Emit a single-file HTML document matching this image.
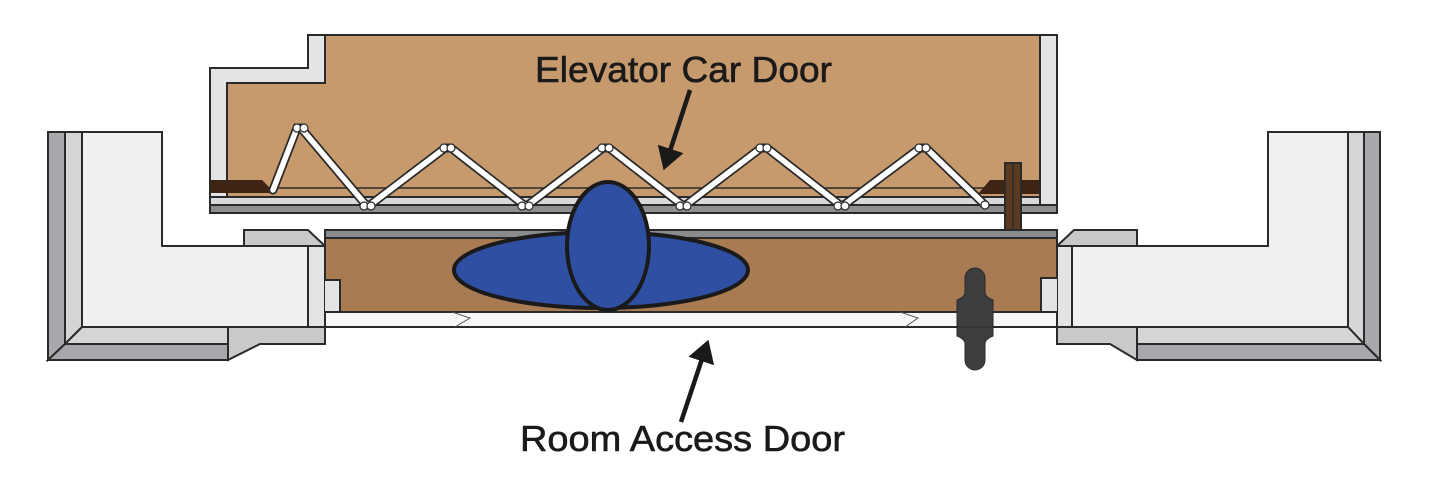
<!DOCTYPE html>
<html><head><style>html,body{margin:0;padding:0;background:#fff}svg{display:block}</style></head><body>
<svg width="1429" height="482" viewBox="0 0 1429 482" xmlns="http://www.w3.org/2000/svg">
<defs>
<marker id="ah" markerWidth="6" markerHeight="6" refX="4" refY="3" orient="auto" markerUnits="strokeWidth"><path d="M0,0 L5,3 L0,6 Z" fill="#1a1a1a"/></marker>
</defs>
<g stroke="#2a2a2a" stroke-width="2" stroke-linejoin="miter">
<!-- Left frame -->
<path d="M48,132 H162 V246 H308 V327 H228 V360 H48 Z" fill="#f0f0f1"/>
<path d="M48,132 H65 V344 L48,360 Z" fill="#a7a8ab"/>
<path d="M65,132 H82 V327 L65,344 Z" fill="#d4d5d7"/>
<path d="M82,327 H228 V344 H65 Z" fill="#d4d5d7"/>
<path d="M65,344 H228 V360 H48 Z" fill="#a7a8ab"/>
<path d="M228,327 H325 V344 H260 L228,360 Z" fill="#c8c9cb"/>
<path d="M308,246 H325 V327 H308 Z" fill="#e3e4e5"/>
<path d="M244,230 H308 L325,246 H244 Z" fill="#c8c9cb"/>
<!-- Right frame -->
<path d="M1380,132 H1268 V246 H1072 V327 H1137 V360 H1380 Z" fill="#f0f0f1"/>
<path d="M1380,132 H1364 V344 L1380,360 Z" fill="#a7a8ab"/>
<path d="M1364,132 H1348 V327 L1364,344 Z" fill="#d4d5d7"/>
<path d="M1348,327 H1137 V344 H1364 Z" fill="#d4d5d7"/>
<path d="M1364,344 H1137 V360 H1380 Z" fill="#a7a8ab"/>
<path d="M1137,327 H1057 V344 H1110 L1137,360 Z" fill="#c8c9cb"/>
<path d="M1072,246 H1057 V327 H1072 Z" fill="#e3e4e5"/>
<path d="M1137,230 H1074 L1057,246 H1137 Z" fill="#c8c9cb"/>
<!-- Room door -->
<rect x="325" y="238" width="732" height="74" fill="#e3e4e5" stroke="none"/>
<path d="M325,238 H1057 V278 H1041 V312 H340 V280 H325 Z" fill="#a87b52"/>
<path d="M325,230 H1057 V238 H325 Z" fill="#8a8b8d"/>
<path d="M325,312 H1057 V327 H325 Z" fill="#f7f7f7"/>
<!-- Elevator car door -->
<path d="M210,68 H308 V35 H1057 V213 H210 Z" fill="#c69a6c"/>
<path d="M210,68 H308 V35 H325 V83 H227 V197 H210 Z" fill="#e3e4e5"/>
<path d="M1040,35 H1057 V213 H1040 Z" fill="#e3e4e5"/>
<path d="M210,197 H1040 V205 H210 Z" fill="#d8d9db"/>
<path d="M210,205 H1057 V213 H210 Z" fill="#8e8f91"/>
<line x1="270" y1="188" x2="1040" y2="188" stroke-width="1.5"/>
<path d="M211,180 H262 L275,193 H211 Z" fill="#3e2414" stroke="none"/>
<path d="M990,180 H1039 V194 H978 Z" fill="#3e2414" stroke="none"/>
<rect x="1005" y="163" width="16" height="67" fill="#5a3a20"/>
<line x1="1013" y1="163" x2="1013" y2="230" stroke-width="1.5"/>
</g>
<!-- zigzag -->
<g stroke="#2a2a2a" stroke-width="9" fill="none" stroke-linecap="round">
<polyline points="273,190 297,128 301,128 366,205 370,205 445,148 451,148 524,205 528,205 603,148 609,148 682,205 686,205 761,148 767,148 840,205 844,205 920,148 926,148 985,205"/>
</g>
<g stroke="#fff" stroke-width="5.5" fill="none" stroke-linecap="round">
<polyline points="273,190 297,128 301,128 366,205 370,205 445,148 451,148 524,205 528,205 603,148 609,148 682,205 686,205 761,148 767,148 840,205 844,205 920,148 926,148 985,205"/>
</g>
<g fill="#fff" stroke="#2a2a2a" stroke-width="1.2">
<circle cx="297" cy="128" r="4"/><circle cx="304" cy="128" r="4"/>
<circle cx="444" cy="148" r="4"/><circle cx="451" cy="148" r="4"/>
<circle cx="602" cy="148" r="4"/><circle cx="609" cy="148" r="4"/>
<circle cx="760" cy="148" r="4"/><circle cx="767" cy="148" r="4"/>
<circle cx="919" cy="148" r="4"/><circle cx="926" cy="148" r="4"/>
<circle cx="364" cy="206" r="4"/><circle cx="371" cy="206" r="4"/>
<circle cx="522" cy="206" r="4"/><circle cx="529" cy="206" r="4"/>
<circle cx="680" cy="206" r="4"/><circle cx="687" cy="206" r="4"/>
<circle cx="838" cy="206" r="4"/><circle cx="845" cy="206" r="4"/>
<circle cx="985" cy="205" r="4"/>
</g>
<g stroke="#555" stroke-width="1" fill="none">
<polyline points="452,312 470,318 455,327"/><polyline points="900,312 918,318 905,327"/>
</g>
<!-- blue figure -->
<g stroke="#1a1a1a" stroke-width="4" fill="#2f4fa3">
<ellipse cx="601" cy="270" rx="147" ry="38"/>
<ellipse cx="608" cy="246" rx="41" ry="64"/>
</g>
<!-- handle -->
<path d="M965,278 a10,10 0 0 1 20,0 V292 q0,5 8,8 V336 q-8,3 -8,8 V360 a10,10 0 0 1 -20,0 V344 q0,-5 -8,-8 V300 q8,-3 8,-8 Z" fill="#3d3e40" stroke="#2a2a2a" stroke-width="1"/>
<line x1="957" y1="327" x2="993" y2="327" stroke="#2a2a2a" stroke-width="1"/>
<!-- labels -->
<g font-family="Liberation Sans, sans-serif" font-size="36" fill="#1a1a1a" stroke="#1a1a1a" stroke-width="0.6">
<text x="535" y="82" textLength="297" lengthAdjust="spacingAndGlyphs">Elevator Car Door</text>
<text x="520" y="451" textLength="325" lengthAdjust="spacingAndGlyphs">Room Access Door</text>
</g>
<g stroke="#1a1a1a" stroke-width="4.5" fill="none">
<line x1="690" y1="90" x2="665" y2="166" marker-end="url(#ah)"/>
<line x1="681" y1="422" x2="707" y2="344" marker-end="url(#ah)"/>
</g>
</svg>
</body></html>
